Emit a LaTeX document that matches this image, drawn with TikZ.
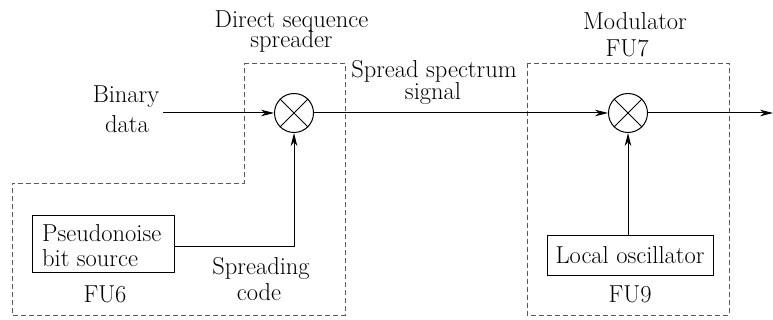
\documentclass[tikz,border=0pt]{standalone}
\usetikzlibrary{arrows.meta}
\begin{document}
\begin{tikzpicture}[x=1pt,y=-1pt,
  txt/.style={inner sep=0pt,anchor=base,font=\fontsize{24.5}{28}\selectfont},
  ltxt/.style={inner sep=0pt,anchor=base west,font=\fontsize{24.5}{28}\selectfont},
  mixer/.style={circle,draw,line width=1pt,minimum size=39pt,inner sep=0pt},
  blk/.style={draw,line width=1pt,inner sep=0pt},
  grp/.style={draw=black!65,line width=0.9pt,dash pattern=on 5pt off 3pt},
  conn/.style={line width=1pt,-{Stealth[length=13pt,width=6.5pt,inset=4pt]}}]
\useasboundingbox (0,0) rectangle (773,320);
% groups
\draw[grp] (244,63) -- (345,63) -- (345,315) -- (12,315) -- (12,183) -- (244,183) -- cycle;
\draw[grp] (527,63) rectangle (729,315);
% mixers
\node[mixer] (m1) at (294,113) {};
\node[mixer] (m2) at (628,113) {};
\foreach \m in {m1,m2}{
  \draw[line width=0.9pt] (\m.45) -- (\m.225);
  \draw[line width=0.9pt] (\m.135) -- (\m.315);
}
% blocks
\node[blk,minimum width=142pt,minimum height=56pt] (pn) at (103,244) {};
\node[ltxt] (pn1) at (42,241.7) {Pseudonoise};
\node[ltxt] (pn2) at (42,266.5) {bit source};
\node[blk,minimum width=166pt,minimum height=39pt] (lo) at (630,255.5) {};
\node[txt] (lo1) at (630,263.3) {Local oscillator};
% labels
\node[txt] (bd1) at (126,102.7) {Binary};
\node[txt] (bd2) at (127,133) {data};
\node[txt] (dss1) at (291.5,27.5) {Direct sequence};
\node[txt] (dss2) at (291.5,48) {spreader};
\node[txt] (sss1) at (434,78) {Spread spectrum};
\node[txt] (sss2) at (433,99.5) {signal};
\node[txt] (mod1) at (635,30) {Modulator};
\node[txt] (mod2) at (627,56.7) {FU7};
\node[txt] (sc1) at (261,274.3) {Spreading};
\node[txt] (sc2) at (259,300) {code};
\node[txt] (fu6) at (105,302) {FU6};
\node[txt] (fu9) at (630,302) {FU9};
\coordinate (in) at (163,113);
\coordinate (out) at (773,113);
% connectors
\draw[conn] (in) -- (m1.west);
\draw[conn] ([yshift=-3pt]pn.east) -| (m1.south);
\draw[conn] (m1.east) -- (m2.west);
\draw[conn] (m2 |- lo.north) -- (m2.south);
\draw[conn] (m2.east) -- (out);
\end{tikzpicture}
\end{document}
